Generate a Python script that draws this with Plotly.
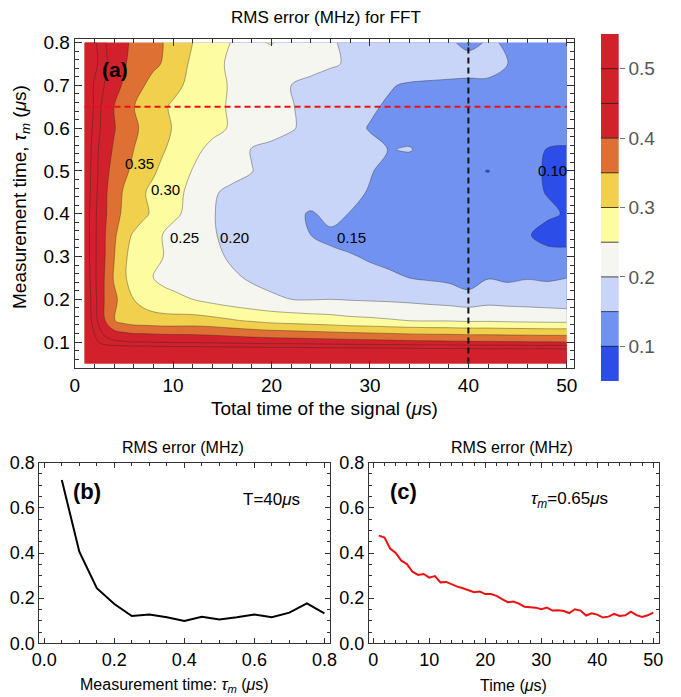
import plotly.graph_objects as go

# ---------------- data ----------------
T_grid = [1, 2, 3, 4, 5, 6, 7, 8, 9, 10, 12, 14, 16, 18, 20, 22, 24, 26, 28, 30,
          32, 34, 36, 38, 40, 42, 44, 46, 48, 50]
tau_grid = [0.05, 0.10, 0.15, 0.20, 0.25, 0.30, 0.35, 0.40, 0.45, 0.50, 0.55,
            0.60, 0.65, 0.70, 0.75, 0.80]

row_005 = [0.76, 0.74, 0.73, 0.72, 0.72, 0.71, 0.72, 0.71, 0.72, 0.71, 0.72, 0.71, 0.72, 0.72, 0.71,
           0.72, 0.72, 0.71, 0.72, 0.71, 0.72, 0.72, 0.71, 0.72, 0.72, 0.71, 0.72, 0.71, 0.72, 0.71]
row_010 = [0.62, 0.52, 0.47, 0.46, 0.455, 0.45, 0.452, 0.448, 0.447, 0.445, 0.443, 0.44, 0.436, 0.432, 0.43,
           0.428, 0.425, 0.423, 0.42, 0.418, 0.415, 0.412, 0.41, 0.408, 0.406, 0.405, 0.404, 0.403, 0.402, 0.401]
row_015 = [0.57, 0.47, 0.405, 0.352, 0.335, 0.325, 0.322, 0.32, 0.318, 0.318, 0.32, 0.315, 0.305, 0.295, 0.285,
           0.28, 0.275, 0.27, 0.263, 0.26, 0.255, 0.25, 0.248, 0.248, 0.244, 0.245, 0.242, 0.24, 0.238, 0.238]
row_020 = [0.56, 0.465, 0.4, 0.36, 0.33, 0.3, 0.285, 0.272, 0.265, 0.26, 0.25, 0.235, 0.222, 0.212, 0.205,
           0.2, 0.198, 0.2, 0.197, 0.195, 0.193, 0.19, 0.185, 0.18, 0.174, 0.183, 0.18, 0.178, 0.175, 0.17]
row_025 = [0.55, 0.46, 0.4, 0.345, 0.305, 0.285, 0.265, 0.248, 0.24, 0.235, 0.23, 0.218, 0.205, 0.196, 0.19,
           0.18, 0.172, 0.168, 0.165, 0.158, 0.155, 0.15, 0.145, 0.14, 0.121, 0.148, 0.142, 0.148, 0.145, 0.15]
row_030 = [0.54, 0.46, 0.405, 0.352, 0.305, 0.29, 0.275, 0.265, 0.25, 0.24, 0.225, 0.208, 0.195, 0.185, 0.178,
           0.17, 0.163, 0.155, 0.152, 0.147, 0.142, 0.138, 0.135, 0.13, 0.128, 0.125, 0.125, 0.115, 0.108, 0.108]
row_035 = [0.54, 0.46, 0.405, 0.36, 0.315, 0.295, 0.28, 0.262, 0.248, 0.235, 0.22, 0.203, 0.19, 0.18, 0.17,
           0.16, 0.15, 0.145, 0.14, 0.136, 0.132, 0.13, 0.125, 0.12, 0.115, 0.112, 0.108, 0.102, 0.092, 0.09]
row_040 = [0.54, 0.46, 0.41, 0.37, 0.34, 0.322, 0.308, 0.293, 0.275, 0.26, 0.235, 0.202, 0.188, 0.178, 0.17,
           0.158, 0.147, 0.158, 0.149, 0.142, 0.138, 0.132, 0.128, 0.115, 0.101, 0.112, 0.115, 0.11, 0.104, 0.098]
row_045 = [0.55, 0.465, 0.41, 0.375, 0.345, 0.32, 0.303, 0.29, 0.275, 0.262, 0.24, 0.205, 0.19, 0.183, 0.178,
           0.172, 0.168, 0.163, 0.157, 0.148, 0.14, 0.135, 0.13, 0.125, 0.118, 0.112, 0.11, 0.106, 0.099, 0.088]
row_050 = [0.55, 0.47, 0.415, 0.385, 0.36, 0.34, 0.322, 0.305, 0.29, 0.278, 0.248, 0.232, 0.215, 0.201, 0.19,
           0.182, 0.175, 0.168, 0.16, 0.152, 0.142, 0.135, 0.13, 0.12, 0.106, 0.099, 0.112, 0.108, 0.097, 0.09]
row_055 = [0.56, 0.47, 0.42, 0.395, 0.37, 0.35, 0.335, 0.32, 0.303, 0.29, 0.26, 0.24, 0.215, 0.198, 0.19,
           0.185, 0.18, 0.172, 0.165, 0.158, 0.149, 0.152, 0.14, 0.125, 0.115, 0.12, 0.118, 0.11, 0.099, 0.096]
row_060 = [0.57, 0.48, 0.43, 0.403, 0.38, 0.36, 0.34, 0.325, 0.31, 0.298, 0.28, 0.26, 0.246, 0.232, 0.215,
           0.203, 0.19, 0.175, 0.16, 0.148, 0.14, 0.138, 0.133, 0.13, 0.128, 0.125, 0.122, 0.12, 0.115, 0.118]
row_065 = [0.58, 0.49, 0.43, 0.40, 0.37, 0.352, 0.325, 0.31, 0.305, 0.295, 0.275, 0.262, 0.244, 0.226, 0.218,
           0.203, 0.185, 0.176, 0.165, 0.155, 0.145, 0.143, 0.14, 0.128, 0.115, 0.12, 0.121, 0.13, 0.12, 0.13]
row_070 = [0.6, 0.49, 0.45, 0.415, 0.395, 0.37, 0.352, 0.335, 0.32, 0.31, 0.29, 0.265, 0.245, 0.23, 0.215,
           0.2, 0.19, 0.18, 0.17, 0.162, 0.153, 0.145, 0.142, 0.14, 0.136, 0.142, 0.146, 0.14, 0.135, 0.132]
row_075 = [0.6, 0.52, 0.46, 0.425, 0.405, 0.385, 0.37, 0.358, 0.347, 0.33, 0.29, 0.262, 0.242, 0.235, 0.23,
           0.222, 0.213, 0.205, 0.195, 0.19, 0.185, 0.18, 0.178, 0.175, 0.177, 0.165, 0.15, 0.14, 0.135, 0.13]
row_080 = [0.58, 0.51, 0.455, 0.43, 0.41, 0.39, 0.375, 0.36, 0.35, 0.335, 0.30, 0.27, 0.248, 0.245, 0.252,
           0.235, 0.22, 0.205, 0.19, 0.185, 0.18, 0.175, 0.17, 0.16, 0.133, 0.156, 0.145, 0.135, 0.13, 0.128]

rms_grid = [row_005, row_010, row_015, row_020, row_025, row_030, row_035, row_040,
            row_045, row_050, row_055, row_060, row_065, row_070, row_075, row_080]

# panel (b): cut at T = 40 us
T_cut = 40
tau_b = [0.05, 0.10, 0.15, 0.20, 0.25, 0.30, 0.35, 0.40, 0.45, 0.50, 0.55, 0.60, 0.65, 0.70, 0.75, 0.80]
err_b = [0.723, 0.406, 0.244, 0.174, 0.121, 0.128, 0.115, 0.099, 0.118, 0.106, 0.115, 0.128, 0.115,
         0.136, 0.177, 0.133]

# panel (c): cut at tau_m = 0.65 us
tau_cut = 0.65
T_c = list(range(1, 51))
err_c = [0.477, 0.468, 0.42, 0.40, 0.366, 0.351, 0.317, 0.303, 0.307, 0.291,
         0.298, 0.27, 0.272, 0.26, 0.251, 0.244, 0.236, 0.226, 0.229, 0.218,
         0.218, 0.21, 0.196, 0.182, 0.185, 0.176, 0.162, 0.161, 0.158, 0.151,
         0.158, 0.145, 0.146, 0.143, 0.134, 0.151, 0.145, 0.123, 0.133, 0.127,
         0.114, 0.118, 0.13, 0.121, 0.124, 0.14, 0.125, 0.117, 0.124, 0.136]

# contour levels and band colours (low -> high)
level_start, level_end, level_size = 0.10, 0.50, 0.05
band_colors = ['#2c4de8', '#7192f0', '#c8d4f8', '#f4f6ef', '#fdfca0',
               '#f0d04c', '#de7033', '#d2212d', '#d2212d', '#d2212d']
cb_ticks = [0.1, 0.2, 0.3, 0.4, 0.5]

# contour labels
label_text = ['0.35', '0.30', '0.25', '0.20', '0.15', '0.10']
label_T = [6.6, 9.2, 11.2, 16.2, 28.1, 48.5]
label_tau = [0.517, 0.456, 0.345, 0.345, 0.345, 0.502]

# ---------------- figure ----------------
W, H = 681, 697
FONT = 'Liberation Sans, Arial, sans-serif'
AX = '#333333'

nb = len(band_colors)
cscale = []
for k, c in enumerate(band_colors):
    lo = max(0.0, (k - 0.5) / (nb - 1))
    hi = min(1.0, (k + 0.5) / (nb - 1))
    cscale.append([lo, c])
    cscale.append([hi, c])

fig = go.Figure()

fig.add_trace(go.Contour(
    x=T_grid, y=tau_grid, z=rms_grid,
    autocontour=False,
    contours=dict(start=level_start, end=level_end, size=level_size,
                  coloring='fill', showlines=True),
    line=dict(color='rgba(40,40,40,0.55)', width=0.7),
    colorscale=cscale, showscale=False,
    xaxis='x', yaxis='y', hoverinfo='skip'))

# cut lines
fig.add_trace(go.Scatter(x=[min(T_grid), max(T_grid)], y=[tau_cut, tau_cut], mode='lines',
                         line=dict(color='#ee1111', width=2, dash='6px,4px'),
                         xaxis='x', yaxis='y', showlegend=False))
fig.add_trace(go.Scatter(x=[T_cut, T_cut], y=[min(tau_grid), max(tau_grid)], mode='lines',
                         line=dict(color='#111111', width=2, dash='6px,4px'),
                         xaxis='x', yaxis='y', showlegend=False))

# panel b
fig.add_trace(go.Scatter(x=tau_b, y=err_b, mode='lines', line=dict(color='black', width=2),
                         xaxis='x2', yaxis='y2', showlegend=False))
# panel c
fig.add_trace(go.Scatter(x=T_c, y=err_c, mode='lines', line=dict(color='#ee1111', width=2),
                         xaxis='x3', yaxis='y3', showlegend=False))

# custom colour bar
mids = [level_start - level_size / 2 + i * level_size for i in range(nb)]
fig.add_trace(go.Heatmap(x=[0], y=mids, z=[[m] for m in mids], colorscale=cscale,
                         zmin=mids[0], zmax=mids[-1], showscale=False,
                         xaxis='x4', yaxis='y4', hoverinfo='skip'))
sep_x, sep_y = [], []
for i in range(nb - 1):
    lv = level_start + i * level_size
    sep_x += [-0.5, 0.5, None]
    sep_y += [lv, lv, None]
fig.add_trace(go.Scatter(x=sep_x, y=sep_y, mode='lines', line=dict(color='rgba(30,30,30,0.8)', width=1),
                         xaxis='x4', yaxis='y4', showlegend=False, hoverinfo='skip'))


def frame_axis(**kw):
    d = dict(showline=True, linecolor=AX, linewidth=1, mirror='allticks', ticks='inside',
             ticklen=7, tickcolor=AX, tickwidth=1, showgrid=False, zeroline=False,
             automargin=False,
             tickfont=dict(family=FONT, size=19, color='black'))
    d.update(kw)
    return d


main_x0, main_x1 = 74.7, 573.7
main_y0, main_y1 = 38.7, 368.3
bot_y0, bot_y1 = 462.7, 643.3
BOT_TICK = dict(family=FONT, size=18, color='black')

fig.update_layout(
    width=W, height=H, margin=dict(l=0, r=0, t=0, b=0, autoexpand=False),
    paper_bgcolor='white', plot_bgcolor='white', showlegend=False,
    font=dict(family=FONT, color='black'),
    xaxis=frame_axis(domain=[main_x0 / W, main_x1 / W], range=[0, 50.7], anchor='y',
                     tickvals=[0, 10, 20, 30, 40, 50],
                     minor=dict(dtick=2, tick0=0, ticklen=4, ticks='inside', tickcolor=AX)),
    yaxis=frame_axis(domain=[1 - main_y1 / H, 1 - main_y0 / H], range=[0.0388, 0.809], anchor='x',
                     tickvals=[0.1, 0.2, 0.3, 0.4, 0.5, 0.6, 0.7, 0.8], tickformat='.1f',
                     minor=dict(dtick=0.02, tick0=0, ticklen=4, ticks='inside', tickcolor=AX)),
    xaxis2=frame_axis(domain=[39.3 / W, 330 / W], range=[-0.0143, 0.816], anchor='y2',
                      tickvals=[0, 0.2, 0.4, 0.6, 0.8], tickformat='.1f', ticklen=5,
                      tickfont=BOT_TICK,
                      minor=dict(dtick=0.05, tick0=0, ticklen=3, ticks='inside', tickcolor=AX)),
    yaxis2=frame_axis(domain=[1 - bot_y1 / H, 1 - bot_y0 / H], range=[0, 0.8], anchor='x2',
                      tickvals=[0, 0.2, 0.4, 0.6, 0.8], tickformat='.1f', ticklen=5,
                      tickfont=BOT_TICK,
                      minor=dict(dtick=0.05, tick0=0, ticklen=3, ticks='inside', tickcolor=AX)),
    xaxis3=frame_axis(domain=[369 / W, 659.3 / W], range=[-0.77, 51.07], anchor='y3',
                      tickvals=[0, 10, 20, 30, 40, 50], ticklen=5,
                      tickfont=BOT_TICK,
                      minor=dict(dtick=2, tick0=0, ticklen=3, ticks='inside', tickcolor=AX)),
    yaxis3=frame_axis(domain=[1 - bot_y1 / H, 1 - bot_y0 / H], range=[0, 0.8], anchor='x3',
                      tickvals=[0, 0.2, 0.4, 0.6, 0.8], tickformat='.1f', ticklen=5,
                      tickfont=BOT_TICK,
                      minor=dict(dtick=0.05, tick0=0, ticklen=3, ticks='inside', tickcolor=AX)),
    xaxis4=dict(domain=[601 / W, 618.7 / W], range=[-0.5, 0.5], anchor='y4', visible=False,
                automargin=False),
    yaxis4=dict(domain=[1 - 381 / H, 1 - 34 / H], range=[0.05, 0.55], anchor='x4', side='right',
                tickvals=cb_ticks, tickformat='.1f', ticks='outside', ticklen=5, automargin=False,
                tickcolor='#777777', showline=False, showgrid=False, zeroline=False,
                tickfont=dict(family=FONT, size=19, color='#555555')),
)

ann = []
# contour labels
for t, xv, yv in zip(label_text, label_T, label_tau):
    ann.append(dict(x=xv, y=yv, xref='x', yref='y', text=t, showarrow=False,
                    font=dict(family=FONT, size=15, color='black')))
ann.append(dict(x=4.1, y=0.736, xref='x', yref='y', text='<b>(a)</b>', showarrow=False,
                font=dict(family=FONT, size=21, color='black')))
ann.append(dict(x=0.122, y=0.672, xref='x2', yref='y2', text='<b>(b)</b>', showarrow=False,
                font=dict(family=FONT, size=22, color='black')))
ann.append(dict(x=0.65, y=0.635, xref='x2', yref='y2', text='T=40<i>μ</i>s', showarrow=False,
                font=dict(family=FONT, size=17, color='black')))
ann.append(dict(x=5.36, y=0.672, xref='x3', yref='y3', text='<b>(c)</b>', showarrow=False,
                font=dict(family=FONT, size=22, color='black')))
ann.append(dict(x=35.1, y=0.635, xref='x3', yref='y3', text='<i>τ<sub>m</sub></i>=0.65<i>μ</i>s',
                showarrow=False, font=dict(family=FONT, size=17, color='black')))

# titles / axis titles (paper coords from pixel positions)
def pp(xpx, ypx, text, size, angle=0, yanchor='middle'):
    return dict(x=xpx / W, y=1 - ypx / H, xref='paper', yref='paper', text=text, showarrow=False,
                xanchor='center', yanchor=yanchor, textangle=angle,
                font=dict(family=FONT, size=size, color='black'))

ann.append(pp(326, 17, 'RMS error (MHz) for FFT', 17))
ann.append(pp(324, 408, 'Total time of the signal (<i>μ</i>s)', 19))
ann.append(pp(21, 197, 'Measurement time, <i>τ<sub>m</sub></i> (<i>μ</i>s)', 19, -90))
ann.append(pp(183, 448, 'RMS error (MHz)', 16))
ann.append(pp(512, 448, 'RMS error (MHz)', 16))
ann.append(pp(174, 685, 'Measurement time: <i>τ<sub>m</sub></i> (<i>μ</i>s)', 16))
ann.append(pp(513, 685, 'Time (<i>μ</i>s)', 16))

fig.update_layout(annotations=ann)

# remove the browser's default page margin so the figure sits at the window's origin
fig.write_html('out.html', config={'displayModeBar': False},
               post_script="document.body.style.margin='0px';document.body.style.padding='0px';")
